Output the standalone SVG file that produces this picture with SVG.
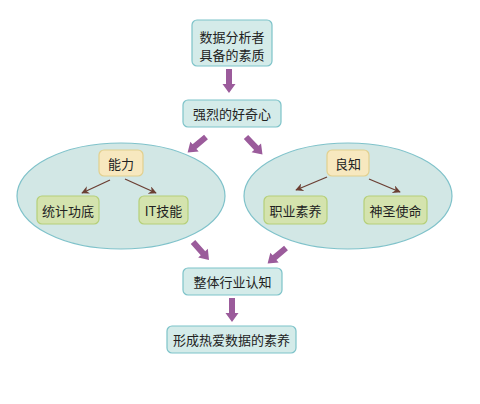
<svg xmlns="http://www.w3.org/2000/svg" width="480" height="404" viewBox="0 0 480 404">
<style>
text{font-family:"Noto Sans CJK SC","Noto Sans",sans-serif;font-size:13px;fill:#222;text-anchor:middle;dominant-baseline:central}
.t{fill:#d4ebe9;stroke:#7dc3c9;stroke-width:1.2}
.e{fill:#d2e7e5;stroke:#7fc2ca;stroke-width:1.2}
.y{fill:#f7e8bf;stroke:#e2d08e;stroke-width:1.2}
.g{fill:#d4e3ae;stroke:#b5cf78;stroke-width:1.2}
.pa{fill:#9b5b9b}
.ba{stroke:#6b3f33;stroke-width:1.3;fill:none;marker-end:url(#bh)}
</style>
<defs>
<path id="pa" d="M0,-3H15V-6.5L24,0L15,6.5V3H0Z"/>
<marker id="bh" viewBox="0 0 10 10" refX="9" refY="5" markerWidth="8" markerHeight="8" orient="auto" markerUnits="userSpaceOnUse"><path d="M0,0L10,5L0,10L3,5Z" fill="#6b3f33"/></marker>
</defs>
<rect width="480" height="404" fill="#fff"/>
<g id="ellipse-left"><ellipse class="e" cx="121" cy="196" rx="104" ry="53"/></g>
<g id="ellipse-right"><ellipse class="e" cx="348" cy="196" rx="104" ry="53"/></g>
<g id="connectors">
<use href="#pa" class="pa" transform="translate(229,69) rotate(90)"/>
<use href="#pa" class="pa" transform="translate(206,137) rotate(140)"/>
<use href="#pa" class="pa" transform="translate(246,137) rotate(46.6)"/>
<use href="#pa" class="pa" transform="translate(193,242) rotate(48.2)"/>
<use href="#pa" class="pa" transform="translate(286,248) rotate(140)"/>
<use href="#pa" class="pa" transform="translate(232,298) rotate(90)"/>
<line class="ba" x1="110" y1="180" x2="82" y2="193"/>
<line class="ba" x1="125" y1="179" x2="156" y2="193"/>
<line class="ba" x1="327" y1="177" x2="296" y2="190"/>
<line class="ba" x1="369" y1="179" x2="400" y2="192"/>
</g>
<g id="n1"><rect class="t" x="192" y="20" width="80" height="46" rx="5"/><text x="232" y="36">数据分析者</text><text x="232" y="54">具备的素质</text></g>
<g id="n2"><rect class="t" x="183" y="100" width="98" height="27" rx="5"/><text x="232" y="113.5">强烈的好奇心</text></g>
<g id="n3"><rect class="y" x="99" y="150" width="44" height="26" rx="5"/><text x="121" y="163">能力</text></g>
<g id="n4"><rect class="g" x="37" y="196" width="62" height="28" rx="5"/><text x="68" y="210">统计功底</text></g>
<g id="n5"><rect class="g" x="139" y="196" width="49" height="28" rx="5"/><text x="163.5" y="210">IT技能</text></g>
<g id="n6"><rect class="y" x="327" y="150" width="42" height="26" rx="5"/><text x="348" y="163">良知</text></g>
<g id="n7"><rect class="g" x="264" y="196" width="63" height="28" rx="5"/><text x="295.5" y="210">职业素养</text></g>
<g id="n8"><rect class="g" x="364" y="196" width="63" height="28" rx="5"/><text x="395.5" y="210">神圣使命</text></g>
<g id="n9"><rect class="t" x="183" y="268" width="99" height="27" rx="5"/><text x="232.5" y="281.5">整体行业认知</text></g>
<g id="n10"><rect class="t" x="167" y="326" width="129" height="27" rx="5"/><text x="231.5" y="339.5">形成热爱数据的素养</text></g>
</svg>
